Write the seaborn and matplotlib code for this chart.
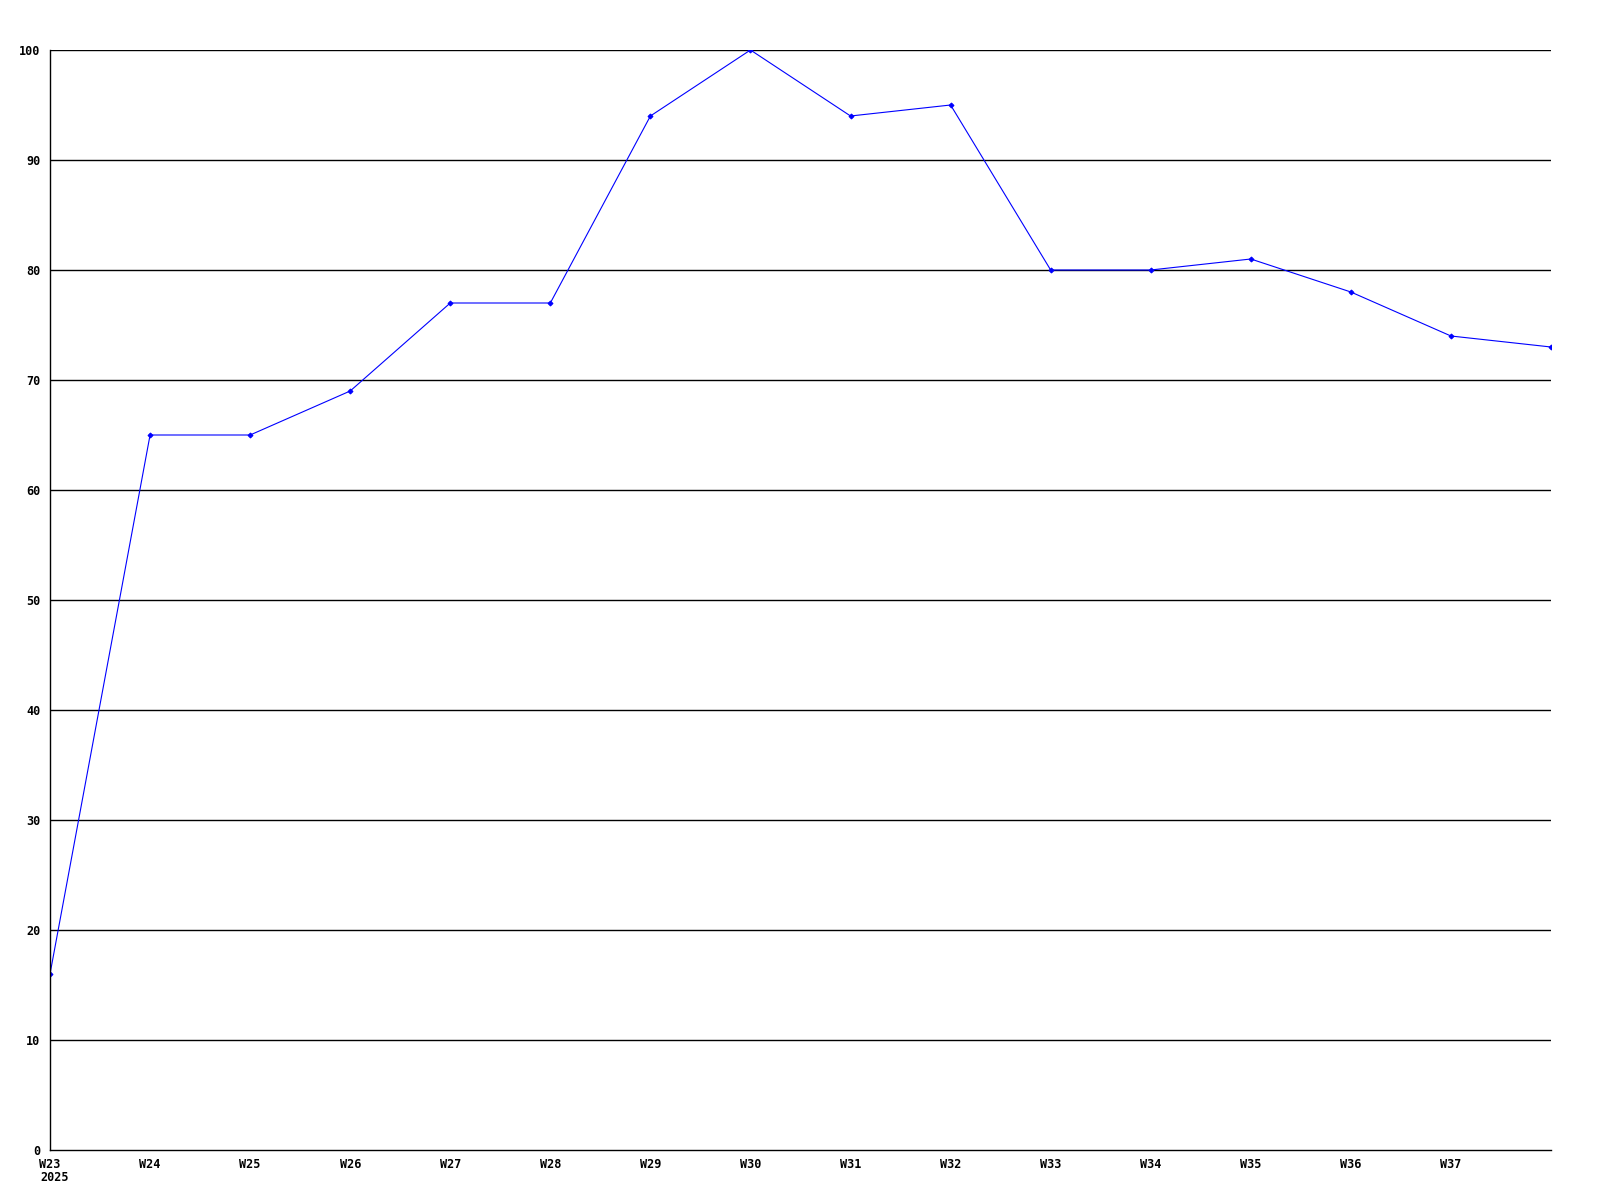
# Weekly index chart, W23 - W38 2025
import pandas as pd
import matplotlib
matplotlib.use("Agg")
import matplotlib.pyplot as plt
import matplotlib.transforms as mtransforms
import seaborn as sns

weeks = ["W23", "W24", "W25", "W26", "W27", "W28", "W29", "W30",
         "W31", "W32", "W33", "W34", "W35", "W36", "W37", "W38"]
values = [16, 65, 65, 69, 77, 77, 94, 100, 94, 95, 80, 80, 81, 78, 74, 73]
tick_labels = ["W23", "W24", "W25", "W26", "W27", "W28", "W29", "W30",
               "W31", "W32", "W33", "W34", "W35", "W36", "W37"]
year_label = "2025"
y_ticks = [0, 10, 20, 30, 40, 50, 60, 70, 80, 90, 100]

df = pd.DataFrame({"week": weeks, "value": values})
df["pos"] = range(len(df))

sns.set_style("white")
plt.rcParams["font.family"] = ["DejaVu Sans Mono"]

fig = plt.figure(figsize=(16, 12), dpi=100)
ax = fig.add_axes([50 / 1600, 50 / 1200, 1501 / 1600, 1100 / 1200])

sns.lineplot(data=df, x="pos", y="value", ax=ax, color="#0000ff",
             linewidth=0.8, marker="D", markersize=2.5,
             markeredgecolor="#0000ff")

ax.set_xlim(0, len(weeks) - 1)
ax.set_ylim(0, 100)
ax.set_yticks(y_ticks)
ax.set_yticklabels([str(v) for v in y_ticks])
ax.set_xticks(range(len(tick_labels)))
ax.set_xticklabels(tick_labels)

for v in y_ticks[1:]:
    ax.axhline(v, color="black", linewidth=1, zorder=0)

for side in ["top", "right"]:
    ax.spines[side].set_visible(False)
for side in ["left", "bottom"]:
    ax.spines[side].set_color("black")
    ax.spines[side].set_linewidth(1)

ax.tick_params(axis="both", length=0, labelsize=8.5, colors="black")
ax.tick_params(axis="y", pad=7)
ax.tick_params(axis="x", pad=6)
for lab in ax.get_xticklabels() + ax.get_yticklabels():
    lab.set_fontweight("bold")

# year under the first week, left edge lined up with "W23"
off = mtransforms.ScaledTranslation(-10 / 100, -21 / 100, fig.dpi_scale_trans)
ax.text(0, 0, year_label, transform=ax.transData + off, ha="left", va="top",
        fontsize=8.5, fontweight="bold", color="black")

ax.set_xlabel("")
ax.set_ylabel("")

fig.savefig("out.png", dpi=100)
